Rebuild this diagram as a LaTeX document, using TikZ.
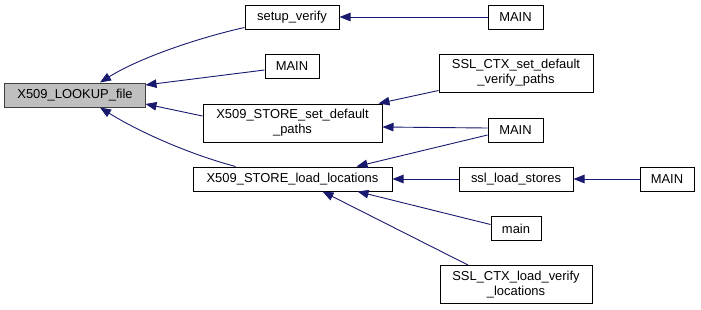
\documentclass[tikz,border=0pt]{standalone}
\usepackage{fontspec}
\setmainfont{Liberation Sans}
\usetikzlibrary{arrows.meta}
\definecolor{edgeblue}{HTML}{191970}
\definecolor{focusgray}{HTML}{BFBFBF}
\tikzset{
  fn/.style={draw=black, line width=1bp, fill=white, rectangle, inner sep=0pt,
    align=center, font=\fontsize{13}{15}\selectfont},
  focus/.style={fn, fill=focusgray, draw=black!75},
  call/.style={draw=edgeblue, line width=0.9bp,
    {Triangle[length=11bp,width=8.5bp,fill=edgeblue]}-},
}
\begin{document}
\begin{tikzpicture}[x=1bp,y=-1bp]
\useasboundingbox (0,0) rectangle (701,309);
\fill[white] (0,0) rectangle (701,309);

% functions
\node[focus, minimum width=140bp, minimum height=24bp] (lookup) at (75,95) {X509\_LOOKUP\_file};
\node[fn, minimum width=94bp, minimum height=24bp] (setup) at (292,17) {setup\_verify};
\node[fn, minimum width=55bp, minimum height=24bp] (mainA) at (515.5,17) {MAIN};
\node[fn, minimum width=54bp, minimum height=24bp] (mainB) at (292,66.5) {MAIN};
\node[fn, minimum width=179bp, minimum height=38bp] (setdef) at (292.5,123) {X509\_STORE\_set\_default\\\_paths};
\node[fn, minimum width=154bp, minimum height=38bp] (sslsetdef) at (516,73) {SSL\_CTX\_set\_default\\\_verify\_paths};
\node[fn, minimum width=55bp, minimum height=24bp] (mainC) at (515.5,130) {MAIN};
\node[fn, minimum width=199bp, minimum height=24bp] (loadloc) at (292.5,179) {X509\_STORE\_load\_locations};
\node[fn, minimum width=114bp, minimum height=24bp] (stores) at (516,179) {ssl\_load\_stores};
\node[fn, minimum width=54bp, minimum height=24bp] (mainD) at (667,179) {MAIN};
\node[fn, minimum width=50bp, minimum height=24bp] (mainlow) at (516,228.5) {main};
\node[fn, minimum width=152bp, minimum height=38bp] (sslload) at (516,284.5) {SSL\_CTX\_load\_verify\\\_locations};

% callers -> callees
\draw[call] ([xshift=25bp]lookup.north) .. controls +(40,-25) and +(-45,10) .. ([yshift=2bp]setup.south west);
\draw[call] ([yshift=10bp]lookup.east) -- ([yshift=-3.5bp]mainB.west);
\draw[call] ([yshift=-9bp]lookup.east) -- ([yshift=7bp]setdef.west);
\draw[call] ([xshift=25bp]lookup.south) .. controls +(40,25) and +(-45,-12) .. ([xshift=43bp]loadloc.north west);

\draw[call] (setup.east) -- (mainA.west);
\draw[call] ([xshift=-4bp]setdef.north east) -- ([yshift=2bp]sslsetdef.south west);
\draw[call] ([yshift=-4bp]setdef.east) -- ([yshift=2bp]mainC.west);
\draw[call] ([xshift=-36bp]loadloc.north east) -- ([yshift=-5bp]mainC.west);
\draw[call] (loadloc.east) -- (stores.west);
\draw[call] (stores.east) -- (mainD.west);
\draw[call] ([xshift=-35bp]loadloc.south east) -- ([yshift=4bp]mainlow.west);
\draw[call] ([xshift=-70bp]loadloc.south east) -- ([xshift=-48bp]sslload.north);
\end{tikzpicture}
\end{document}
